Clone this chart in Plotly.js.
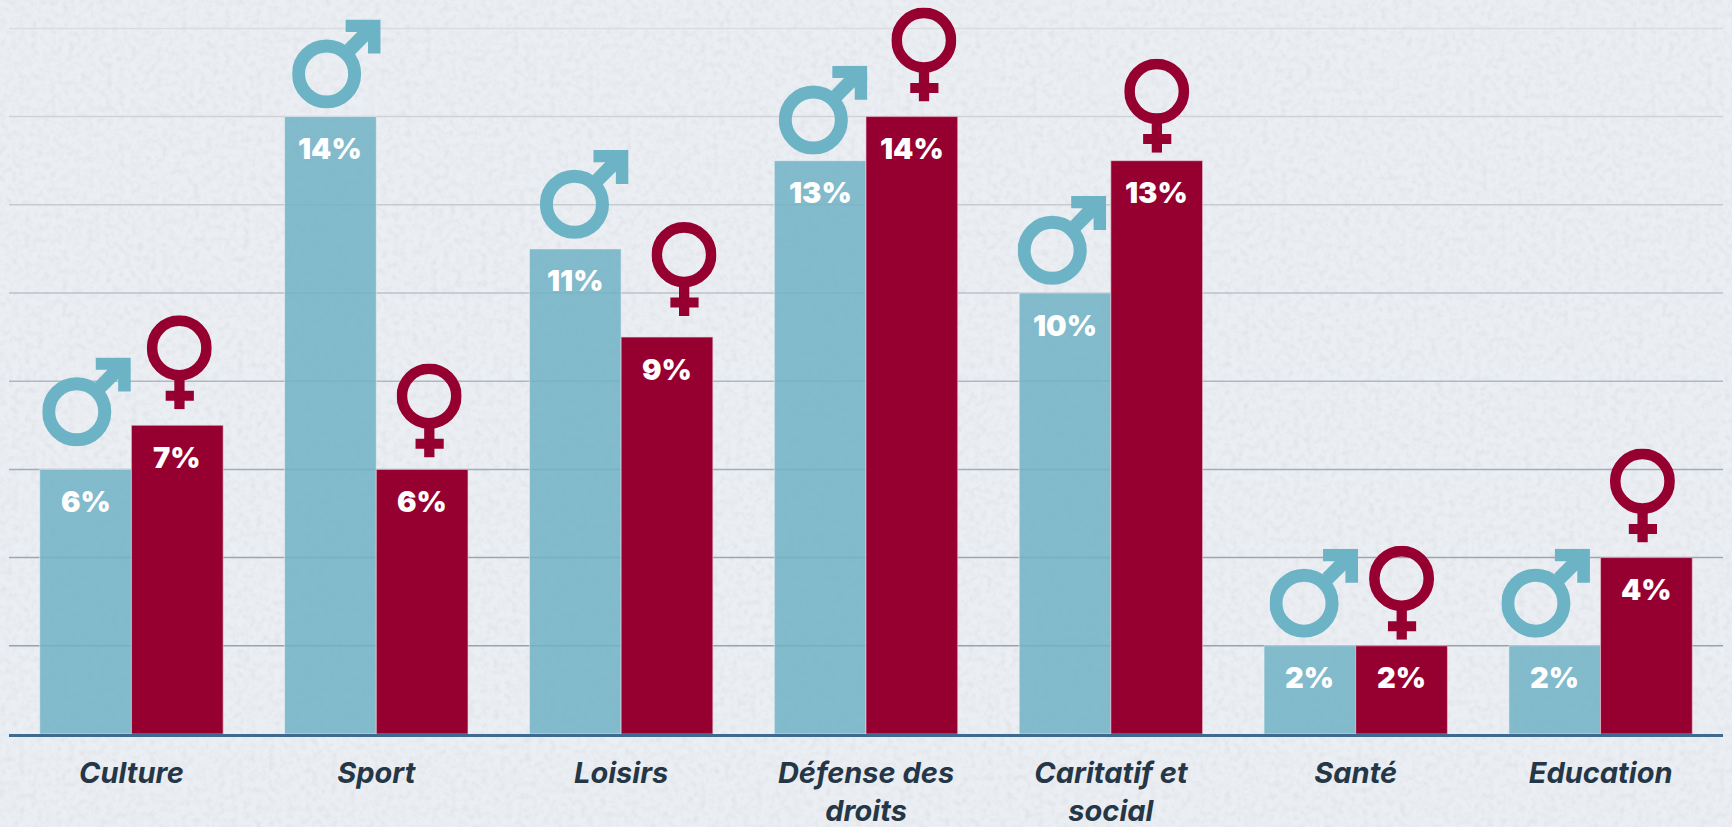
<!DOCTYPE html>
<html><head><meta charset="utf-8">
<script src="https://cdn.plot.ly/plotly-3.0.1.min.js"></script>
<style>
html,body{margin:0;padding:0;width:1732px;height:827px;overflow:hidden;background-color:#ebeff4;}
#bg{position:absolute;left:0;top:0;width:1732px;height:827px;}
#chart{position:absolute;left:0;top:0;width:1732px;height:827px;}
</style></head><body>
<svg id="bg" xmlns="http://www.w3.org/2000/svg"><filter id="n"><feTurbulence type="fractalNoise" baseFrequency="0.16" numOctaves="5" seed="7"/><feColorMatrix values="0 0 0 0 0.58  0 0 0 0 0.6  0 0 0 0 0.6  0.42 0.42 0 0 -0.36"/></filter><rect width="1732" height="827" filter="url(#n)"/></svg>
<div id="chart"></div>
<script>
var categories = ['Culture','Sport','Loisirs','Défense des<br>droits','Caritatif et<br>social','Santé','Education'];
var hommes = [6,14,11,13,10,2,2];
var femmes = [7,6,9,14,13,2,4];
var gridValues = [2,4,6,8,10,12,14,16];
var gridColors = ['#97a2ac','#9ca6b0','#a3adb6','#b0b8bf','#bcc2c8','#c6cbd0','#cfd3d7','#d9dce0'];

// icon placement relative to its bar, in pixels
var maleLift = [23,8,10,6,8,8,8];
var femaleLift = [16,12,21,15,8,6,15];
var maleShift = [1,6,9,3,-3,4,-9];
var femaleShift = [2,7,17,12,0,0,-4];

var pxPerUnitY = 44.1, plotH = 734, plotW = 1714, pxPerCat = plotW/7, barW = 0.3745;
var BLUE='rgba(112,177,196,0.85)', RED='#960030', MALE='#6db3c6';

function svgUri(s){return 'data:image/svg+xml;charset=utf-8,'+encodeURIComponent(s);}
var maleSvg = svgUri('<svg xmlns="http://www.w3.org/2000/svg" viewBox="0 0 265 267"><circle cx="103" cy="163" r="84" fill="none" stroke="'+MALE+'" stroke-width="39"/><path fill="'+MALE+'" d="M160 0H265V102H227V65L185 107L158 75L195 37H160Z"/></svg>');
var femaleSvg = svgUri('<svg xmlns="http://www.w3.org/2000/svg" viewBox="0 0 196 282"><circle cx="98" cy="98" r="82" fill="none" stroke="'+RED+'" stroke-width="32"/><path fill="'+RED+'" d="M83 175H114V226H142V256H114V282H83V256H57V226H83Z"/></svg>');

var images = [], annotations = [];
var labelFont = {family:'Inter, Lato, sans-serif', size:29, color:'#ffffff', weight:900};
categories.forEach(function(c,i){
  var mW=88.5, mH=89, fW=65, fH=94;
  images.push({source:maleSvg, xref:'x', yref:'y', layer:'above', sizing:'stretch',
    x:i-barW/2+maleShift[i]/pxPerCat, y:hommes[i]+(maleLift[i]+mH)/pxPerUnitY,
    sizex:mW/pxPerCat, sizey:mH/pxPerUnitY, xanchor:'center', yanchor:'top'});
  images.push({source:femaleSvg, xref:'x', yref:'y', layer:'above', sizing:'stretch',
    x:i+barW/2+femaleShift[i]/pxPerCat, y:femmes[i]+(femaleLift[i]+fH)/pxPerUnitY,
    sizex:fW/pxPerCat, sizey:fH/pxPerUnitY, xanchor:'center', yanchor:'top'});
  annotations.push({xref:'x',yref:'y',x:i-barW/2,y:hommes[i],yshift:-32,text:hommes[i]+'%',showarrow:false,font:labelFont,xanchor:'center',yanchor:'middle'});
  annotations.push({xref:'x',yref:'y',x:i+barW/2,y:femmes[i],yshift:-32,text:femmes[i]+'%',showarrow:false,font:labelFont,xanchor:'center',yanchor:'middle'});
});

var shapes = gridValues.map(function(v,i){
  return {type:'line',xref:'paper',yref:'y',x0:0,x1:1,y0:v,y1:v,layer:'below',line:{color:gridColors[i],width:1.5}};
});

var traces = [
 {type:'bar',name:'Hommes',x:categories,y:hommes,marker:{color:BLUE,line:{color:'rgba(235,240,245,0.6)',width:1}},hoverinfo:'x+y'},
 {type:'bar',name:'Femmes',x:categories,y:femmes,marker:{color:RED,line:{color:'rgba(235,200,215,0.6)',width:1}},hoverinfo:'x+y'}
];
var layout = {
  width:1732,height:827,
  margin:{l:9,r:9,t:0,b:93,pad:0},
  paper_bgcolor:'rgba(0,0,0,0)',plot_bgcolor:'rgba(0,0,0,0)',
  showlegend:false,barmode:'group',bargap:0.251,bargroupgap:0,
  xaxis:{type:'category',range:[-0.5,6.5],showgrid:false,showline:true,linecolor:'#3f6a90',linewidth:3,ticks:'',ticklabelstandoff:11,automargin:false,
    tickfont:{family:'Inter, Lato, sans-serif',size:29,color:'#253746',weight:700,style:'italic'}},
  yaxis:{range:[0,plotH/pxPerUnitY],showgrid:false,zeroline:false,showticklabels:false,ticks:'',automargin:false},
  images:images,annotations:annotations,shapes:shapes
};
Plotly.newPlot('chart',traces,layout,{displayModeBar:false,staticPlot:true});
</script></body></html>
